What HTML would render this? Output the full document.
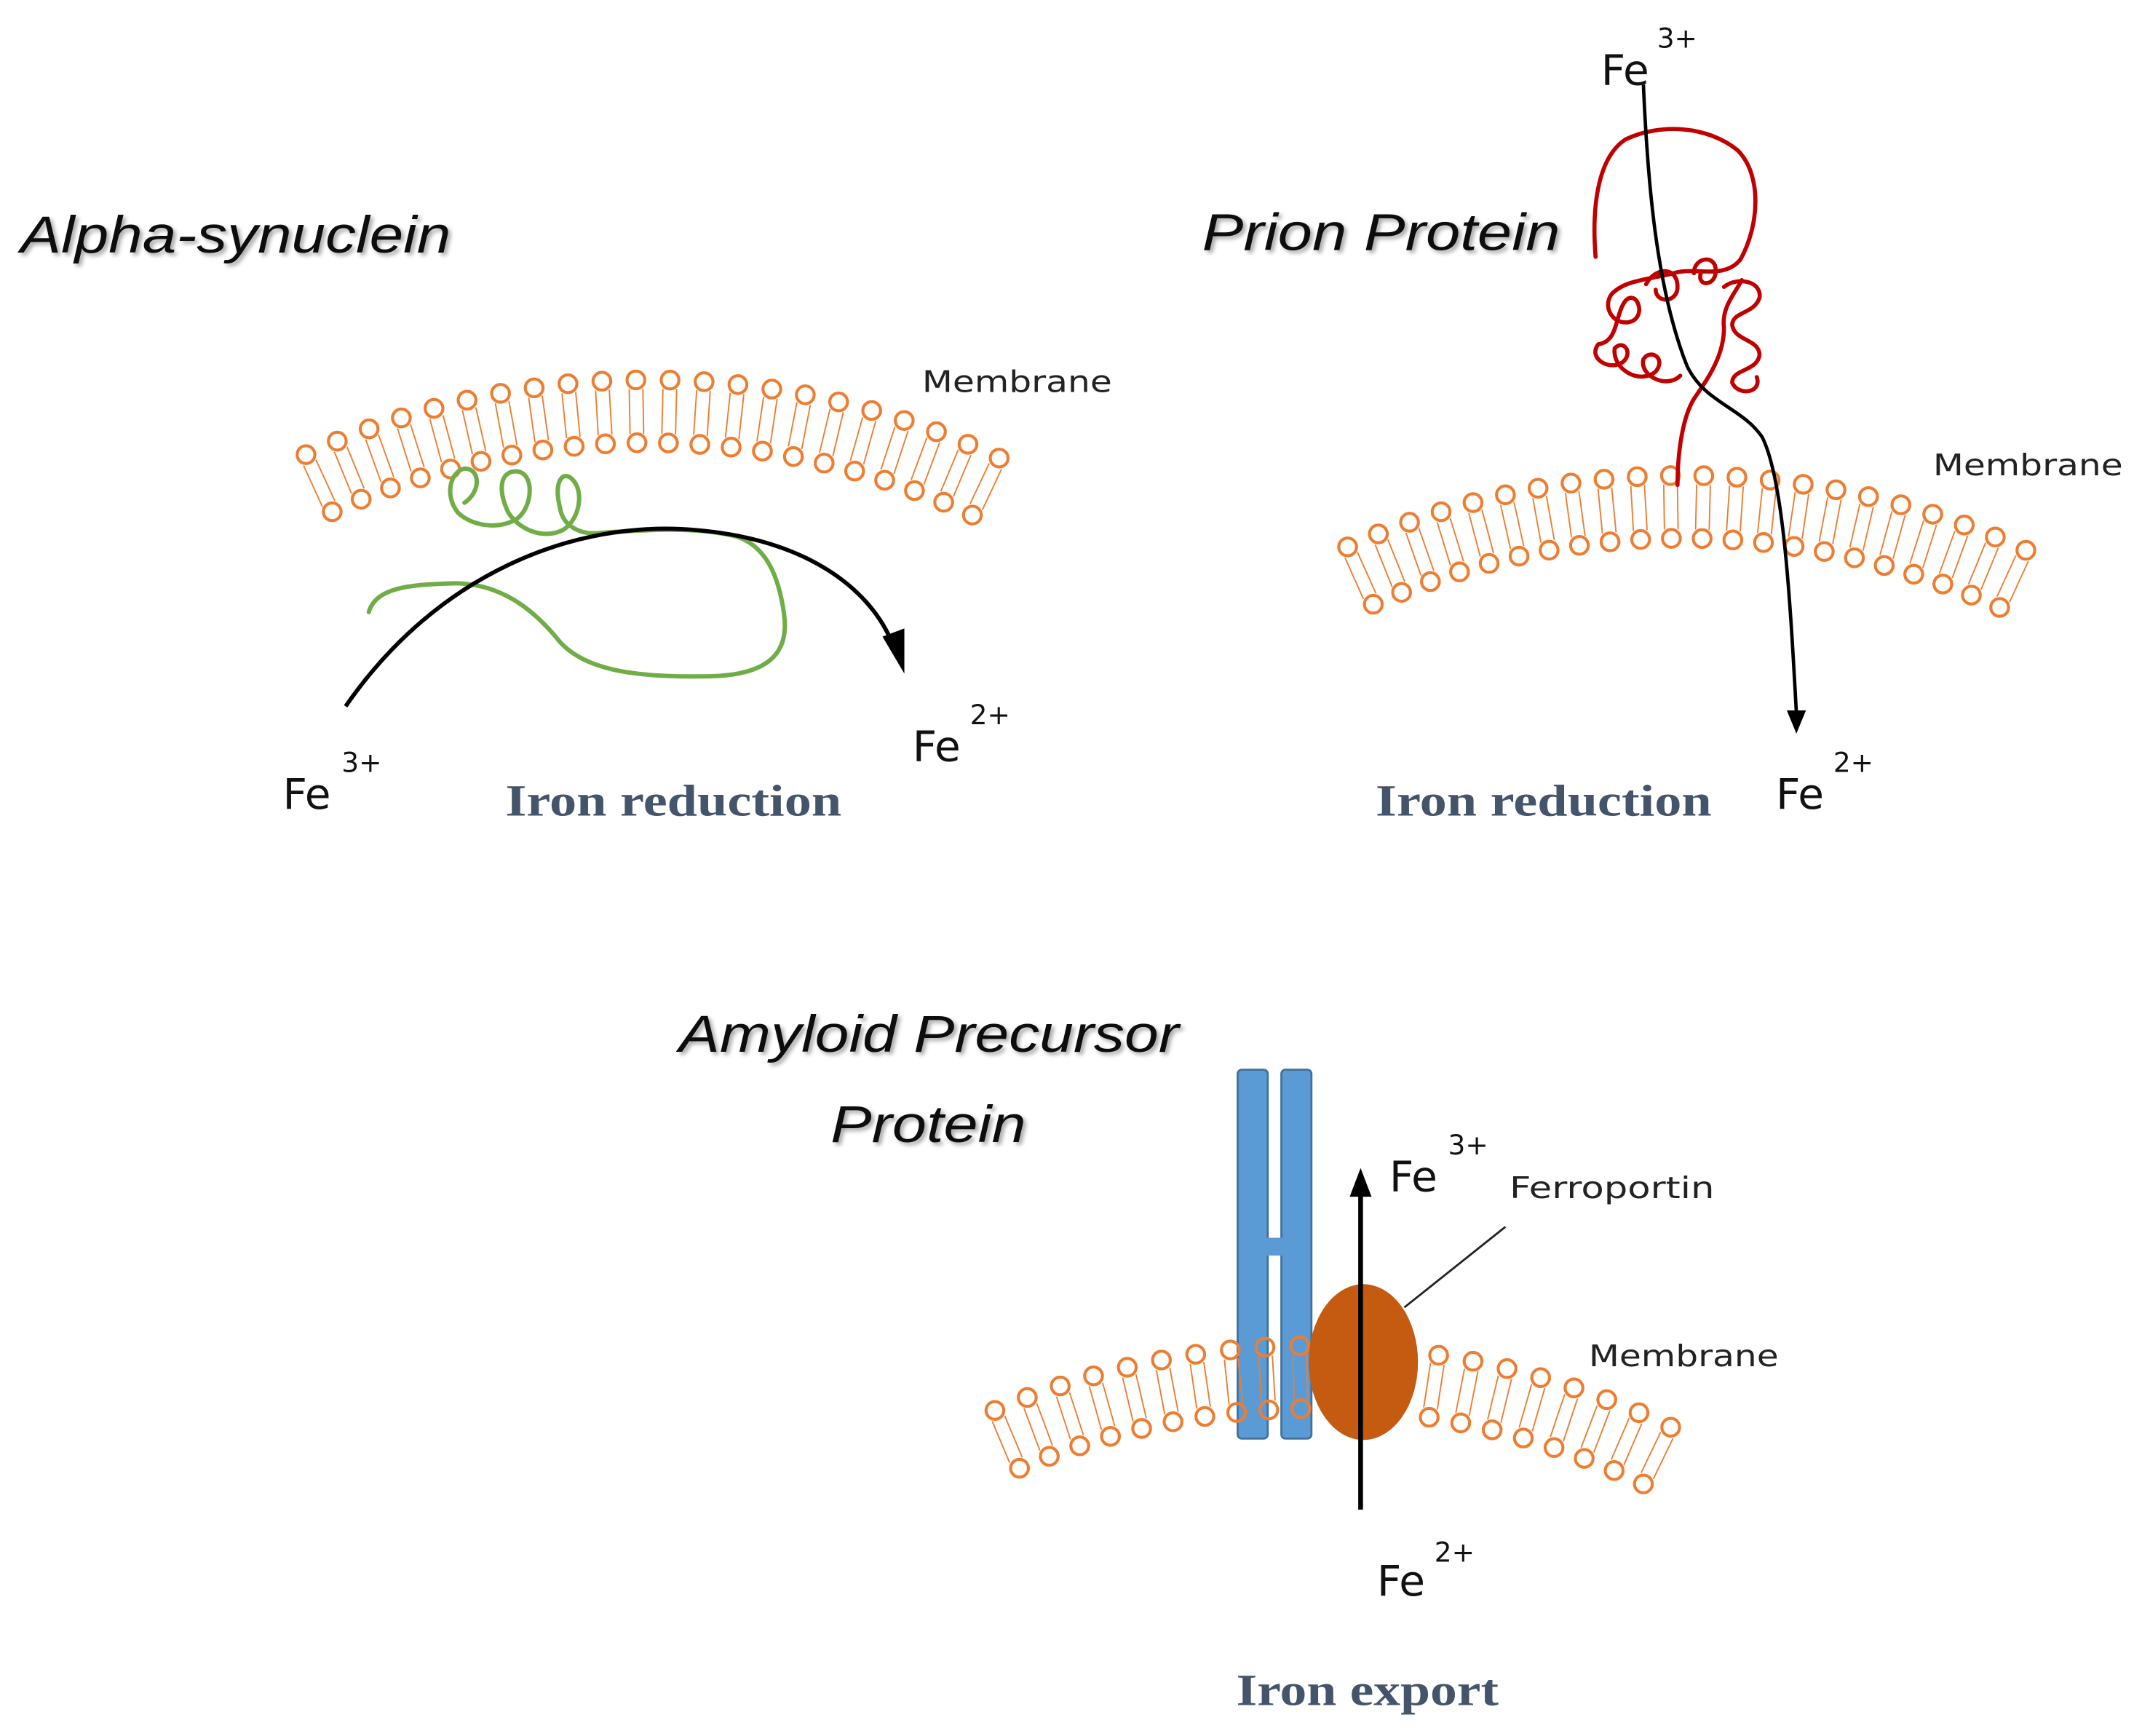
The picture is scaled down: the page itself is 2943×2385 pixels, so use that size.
<!DOCTYPE html>
<html><head><meta charset="utf-8"><style>
html,body{margin:0;padding:0;background:#fff;}
svg{display:block;}
.title{font-family:"Liberation Sans",sans-serif;font-style:italic;font-size:38px;fill:#111;}
.mem{font-family:"DejaVu Sans","Liberation Sans",sans-serif;font-size:22px;fill:#222;}
.fe{font-family:"DejaVu Sans","Liberation Sans",sans-serif;font-size:31px;fill:#111;}
.sup{font-family:"DejaVu Sans","Liberation Sans",sans-serif;font-size:20px;fill:#111;}
.lab{font-family:"Liberation Serif",serif;font-weight:bold;font-size:33px;fill:#44546a;}
</style></head><body>
<svg id="s" width="2943" height="2385" viewBox="0 0 1568 1270.7" xmlns="http://www.w3.org/2000/svg">
<defs>
<filter id="sh" x="-10%" y="-10%" width="120%" height="130%"><feDropShadow dx="2" dy="2" stdDeviation="1.5" flood-color="#000" flood-opacity="0.35"/></filter>
</defs>
<g id="lipids" fill="none" stroke="#ed7d31"></g>

<text class="title" x="15" y="185" textLength="315" lengthAdjust="spacingAndGlyphs" filter="url(#sh)">Alpha-synuclein</text>
<text class="title" x="880" y="183" textLength="262" lengthAdjust="spacingAndGlyphs" filter="url(#sh)">Prion Protein</text>
<text class="title" x="497" y="770" textLength="366" lengthAdjust="spacingAndGlyphs" filter="url(#sh)">Amyloid Precursor</text>
<text class="title" x="608" y="836" textLength="143" lengthAdjust="spacingAndGlyphs" filter="url(#sh)">Protein</text>

<text class="mem" x="675" y="287" textLength="139" lengthAdjust="spacingAndGlyphs">Membrane</text>
<text class="mem" x="1415" y="348" textLength="139" lengthAdjust="spacingAndGlyphs">Membrane</text>
<text class="mem" x="1163" y="1000" textLength="139" lengthAdjust="spacingAndGlyphs">Membrane</text>
<text class="mem" x="1105" y="877" textLength="150" lengthAdjust="spacingAndGlyphs">Ferroportin</text>

<!-- green alpha-synuclein -->
<path d="M270,448 C275,430 300,428 330,427 C365,426 390,445 410,470 C430,492 470,496 520,495 C560,494 578,480 574,450 C570,420 560,400 540,393 C510,385 470,388 440,390 C425,392 412,385 410,372 C405,352 412,345 418,350 C428,358 425,380 412,388 C398,395 380,388 372,375 C365,360 365,345 378,345 C392,346 390,372 378,380 C365,388 345,385 335,375 C325,362 330,345 340,343 C352,343 352,360 340,368" fill="none" stroke="#70ad47" stroke-width="3.2" stroke-linecap="round"/>
<!-- black arc -->
<path d="M253,517 C320,420 420,380 510,388 C590,395 635,430 652,468" fill="none" stroke="#000" stroke-width="3"/>
<polygon points="662,493 646,466 662,460" fill="#000"/>

<!-- red prion -->
<path d="M1168,188 C1165,150 1170,115 1190,102 C1215,90 1250,92 1272,110 C1290,128 1288,165 1274,190 C1262,205 1240,195 1225,200 C1205,205 1190,205 1180,215 C1172,225 1182,240 1195,235 C1205,230 1198,212 1190,220 C1182,230 1185,250 1170,252 C1162,262 1178,272 1188,265 C1196,258 1188,248 1182,255 C1180,270 1200,282 1212,272 C1220,262 1208,255 1203,263 C1200,275 1220,285 1230,275 M1205,208 C1212,195 1228,195 1228,210 C1228,222 1212,222 1212,212 M1240,200 C1240,188 1256,186 1256,198 C1256,210 1242,210 1245,200 M1262,210 C1272,202 1290,206 1288,218 C1284,230 1268,228 1268,238 C1270,250 1288,248 1288,260 C1286,272 1268,270 1268,280 C1272,290 1290,288 1286,276 M1275,205 C1270,215 1260,225 1262,240 C1262,262 1248,280 1240,292 C1232,305 1228,330 1228,355" fill="none" stroke="#c00000" stroke-width="3" stroke-linecap="round"/>
<path d="M1203,62 C1206,130 1212,210 1235,268 C1248,295 1275,298 1290,320 C1305,350 1310,430 1315,522" fill="none" stroke="#000" stroke-width="2.5"/>
<polygon points="1315,537 1308,520 1322,520" fill="#000"/>

<!-- APP -->
<rect x="906" y="783" width="22" height="270" rx="3" fill="#5b9bd5" stroke="#41719c" stroke-width="1.5"/>
<rect x="938" y="783" width="22" height="270" rx="3" fill="#5b9bd5" stroke="#41719c" stroke-width="1.5"/>
<rect x="926" y="906" width="14" height="13" fill="#5b9bd5"/>
<g id="lip2" fill="none" stroke="#ed7d31"></g>
<ellipse cx="998" cy="997" rx="40" ry="57" fill="#c55a11"/>
<line x1="1028" y1="957" x2="1102" y2="898" stroke="#222" stroke-width="1.5"/>
<line x1="996" y1="1105" x2="996" y2="872" stroke="#000" stroke-width="3.5"/>
<polygon points="996,855 988,876 1004,876" fill="#000"/>

<text class="fe" x="207" y="592">Fe</text><text class="sup" x="250" y="565">3+</text>
<text class="fe" x="668" y="557">Fe</text><text class="sup" x="710" y="530">2+</text>
<text class="fe" x="1172" y="62">Fe</text><text class="sup" x="1213" y="35">3+</text>
<text class="fe" x="1300" y="592">Fe</text><text class="sup" x="1342" y="565">2+</text>
<text class="fe" x="1017" y="872">Fe</text><text class="sup" x="1060" y="845">3+</text>
<text class="fe" x="1008" y="1168">Fe</text><text class="sup" x="1050" y="1143">2+</text>

<text class="lab" x="370" y="597" textLength="246" lengthAdjust="spacingAndGlyphs">Iron reduction</text>
<text class="lab" x="1007" y="597" textLength="246" lengthAdjust="spacingAndGlyphs">Iron reduction</text>
<text class="lab" x="905" y="1248" textLength="192" lengthAdjust="spacingAndGlyphs">Iron export</text>
</svg>
<script>
(function(){
function mem(cx,cy,R,a0,a1,n,len,skip){
 var h='';
 for(var i=0;i<n;i++){
  var a=a0+(a1-a0)*i/(n-1);
  var ux=Math.sin(a),uy=-Math.cos(a);
  var tx=cx+R*ux,ty=cy+R*uy,bx=cx+(R-len)*ux,by=cy+(R-len)*uy;
  if(skip&&skip(tx))continue;
  var px=-uy*5,py=ux*5;
  h+='<circle cx="'+tx.toFixed(1)+'" cy="'+ty.toFixed(1)+'" r="6.5" stroke-width="2.2"/>';
  h+='<circle cx="'+bx.toFixed(1)+'" cy="'+by.toFixed(1)+'" r="6.5" stroke-width="2.2"/>';
  var sx=tx-6.5*ux,sy=ty-6.5*uy,ex=bx+6.5*ux,ey=by+6.5*uy;
  h+='<line x1="'+(sx+px).toFixed(1)+'" y1="'+(sy+py).toFixed(1)+'" x2="'+(ex+px).toFixed(1)+'" y2="'+(ey+py).toFixed(1)+'" stroke-width="1"/>';
  h+='<line x1="'+(sx-px).toFixed(1)+'" y1="'+(sy-py).toFixed(1)+'" x2="'+(ex-px).toFixed(1)+'" y2="'+(ey-py).toFixed(1)+'" stroke-width="1"/>';
 }
 return h;
}
document.getElementById('lipids').innerHTML=mem(475,880,602,-0.43,0.44,22,46)+mem(1232,950,602,-0.42,0.43,22,46);
document.getElementById('lip2').innerHTML=mem(962,1585,600,-0.40,0.45,21,46,function(x){return x>955&&x<1035;});
})();
</script>
</body></html>
